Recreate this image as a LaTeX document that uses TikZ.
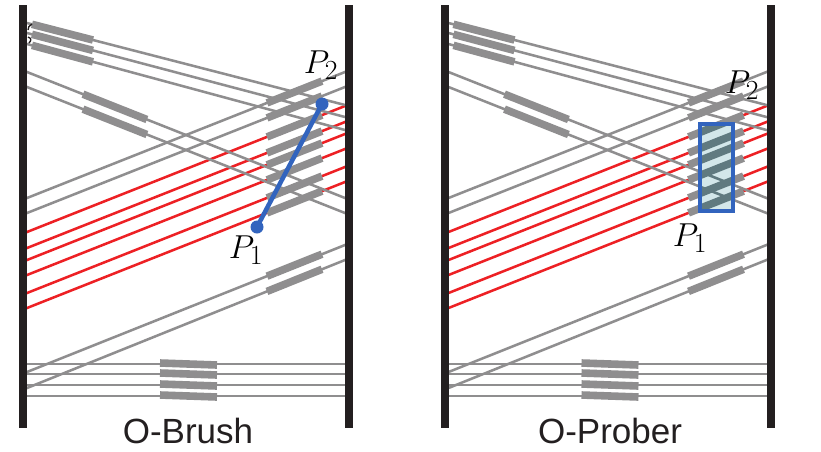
\documentclass[tikz,border=0pt]{standalone}
\usepackage{fontspec}
\setsansfont{Liberation Sans}
\usetikzlibrary{calc}
\definecolor{wallc}{RGB}{35,31,32}
\definecolor{grayc}{RGB}{143,142,143}
\definecolor{redc}{RGB}{237,32,36}
\definecolor{bluec}{RGB}{50,100,190}
\definecolor{boxfill}{RGB}{211,231,234}
\definecolor{boxdark}{RGB}{96,122,128}
\tikzset{
  wall/.style={draw=wallc, line width=6pt},
  thinline/.style={draw=grayc, line width=1.9pt},
  redline/.style={draw=redc, line width=1.9pt},
  seg/.style={draw=grayc, line width=5.7pt},
  darkseg/.style={draw=boxdark, line width=5.7pt},
  darkthin/.style={draw=boxdark, line width=1.9pt},
  bluepath/.style={draw=bluec, line width=3.4pt},
  bluedot/.style={fill=bluec},
  plabel/.style={inner sep=0pt, font=\fontsize{29}{32}\selectfont},
  caption/.style={inner sep=0pt, anchor=base, font=\sffamily\fontsize{26.25}{30}\selectfont, text=wallc}
}
% a full-width line given its y at x=27 and at x=345
\newcommand{\myray}[3]{\draw[#1] ($(27,#2)!-0.012!(345,#3)$) -- ($(27,#2)!1.012!(345,#3)$);}
% a thick piece on such a line, between fractions #4 and #5
\newcommand{\mythk}[5]{\draw[#1] ($(27,#2)!#4!(345,#3)$) -- ($(27,#2)!#5!(345,#3)$);}
\newcommand{\mypanel}{%
  % red lines
  \foreach \a/\b in {232/106,248/122,260/134,275/149,293/167,308/182}{\myray{redline}{\a}{\b}}
  % gray lines
  \foreach \a/\b in {23/105,33/117,44/130,72/198,87/213,198/72,213/87,372/245,388/260,364/364,374/374,385/385,396/396}{\myray{thinline}{\a}{\b}}
  % thick pieces
  \foreach \a/\b in {23/105,33/117,44/130}{\mythk{seg}{\a}{\b}{0.0157}{0.2075}}
  \foreach \a/\b in {72/198,87/213}{\mythk{seg}{\a}{\b}{0.176}{0.377}}
  \foreach \a/\b in {198/72,213/87,232/106,248/122,260/134,275/149,293/167,308/182}{\mythk{seg}{\a}{\b}{0.7547}{0.9277}}
  \foreach \a/\b in {372/245,388/260}{\mythk{seg}{\a}{\b}{0.7547}{0.9277}}
  \foreach \a in {364,374,385,396}{\draw[seg] (160,\a-1) -- (217,\a+1);}
  % walls
  \draw[wall] (23,5) -- (23,428);
  \draw[wall] (349,5) -- (349,428);
}
\begin{document}
\begin{tikzpicture}[x=0.75pt,y=-0.75pt]
\useasboundingbox (0,0) rectangle (821,451);
% left panel: O-Brush
\begin{scope}
  \mypanel
  \draw[wallc, line width=1pt] (32,24) .. controls (29,25) and (28,28) .. (28,30);
  \draw[wallc, line width=1pt] (28,37) .. controls (31,38) and (32,40) .. (29,43);
  \node[plabel] (p2a) at (321,65) {$P_2$};
  \node[plabel] (p1a) at (246,250) {$P_1$};
  \coordinate (d1) at (257,227);
  \coordinate (d2) at (322,104);
  \draw[bluepath] (d1) -- (d2);
  \fill[bluedot] (d1) circle (6.5);
  \fill[bluedot] (d2) circle (6.5);
  \node[caption] (capa) at (188,443) {O-Brush};
\end{scope}
% right panel: O-Prober
\begin{scope}[shift={(421.5,0)}]
  \mypanel
  \fill[boxfill] (278.5,124) rectangle (311.5,211);
  \begin{scope}
    \clip (278.5,124) rectangle (311.5,211);
    \foreach \a/\b in {72/198,87/213}{\myray{darkthin}{\a}{\b}}
    \foreach \a/\b in {198/72,213/87,232/106,248/122,260/134,275/149,293/167,308/182}{\mythk{darkseg}{\a}{\b}{0.7547}{0.9277}}
  \end{scope}
  \draw[bluec, line width=3pt] (278.5,124) rectangle (311.5,211);
  \node[plabel] (p2b) at (320.5,85) {$P_2$};
  \node[plabel] (p1b) at (268.5,238) {$P_1$};
  \node[caption] (capb) at (188.5,443) {O-Prober};
\end{scope}
\end{tikzpicture}
\end{document}
